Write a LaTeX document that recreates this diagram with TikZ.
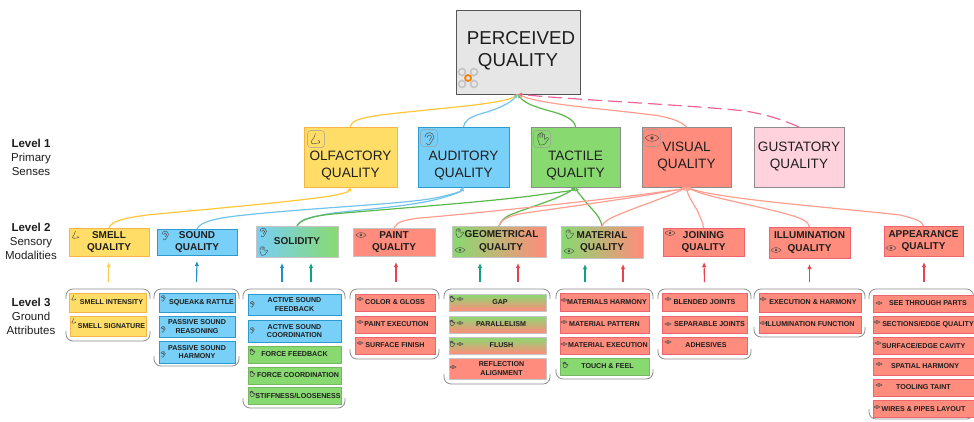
\documentclass[tikz,border=0pt]{standalone}
\usepackage{fontspec}
\setmainfont{Liberation Sans}
\usetikzlibrary{arrows.meta}
\definecolor{rootfill}{HTML}{E6E6E6}
\definecolor{rootedge}{HTML}{555555}
\definecolor{yfill}{HTML}{FFDD66}
\definecolor{yedge}{HTML}{F7B548}
\definecolor{yline}{HTML}{FFC738}
\definecolor{bfill}{HTML}{78CFF7}
\definecolor{bedge}{HTML}{2A9AD0}
\definecolor{bline}{HTML}{72C3EC}
\definecolor{gfill}{HTML}{88DA70}
\definecolor{gline}{HTML}{5BB84A}
\definecolor{sfill}{HTML}{FF8C7C}
\definecolor{sedge}{HTML}{F0626C}
\definecolor{sline}{HTML}{FF9E90}
\definecolor{pfill}{HTML}{FFD2DE}
\definecolor{pline}{HTML}{F0649A}
\definecolor{greyedge}{HTML}{8C8C8C}
\definecolor{lightedge}{HTML}{C4C4C4}
\definecolor{ink}{HTML}{1E1E1E}
\definecolor{upblue}{HTML}{1F8FC4}
\definecolor{upteal}{HTML}{14A085}
\definecolor{upred}{HTML}{E8424F}
\definecolor{upyellow}{HTML}{FFCB55}
\newcommand{\pad}[1]{\hspace*{#1pt}}
\tikzset{
  base/.style={rectangle,inner sep=0pt,outer sep=0pt,align=center,text=ink,line width=0.7pt},
  rootbox/.style={base,fill=rootfill,draw=rootedge,line width=1pt,font=\fontsize{18.7}{22}\selectfont},
  sense/.style={base,font=\fontsize{13.6}{17}\selectfont,line width=0.9pt},
  modal/.style={base,font=\bfseries\fontsize{10}{12.3}\selectfont,line width=0.9pt},
  ground/.style={base,font=\bfseries\fontsize{7.1}{8.3}\selectfont},
  lvl/.style={base,font=\fontsize{11.5}{14}\selectfont},
  yel/.style={fill=yfill,draw=yedge},
  blu/.style={fill=bfill,draw=bedge},
  grn/.style={fill=gfill,draw=gfill!85!black},
  sal/.style={fill=sfill,draw=sedge},
  grpbox/.style={rectangle,inner sep=0pt,outer sep=0pt,append after command={\pgfextra{
    \draw[grpline] ([yshift=-10pt]\tikzlastnode.north west) -- (\tikzlastnode.north west) -- (\tikzlastnode.north east) -- ([yshift=-10pt]\tikzlastnode.north east);
    \draw[grpline] ([yshift=10pt]\tikzlastnode.south west) -- (\tikzlastnode.south west) -- (\tikzlastnode.south east) -- ([yshift=10pt]\tikzlastnode.south east);
  }}},
  grpline/.style={draw=greyedge,line width=0.8pt,rounded corners=7pt},
  link/.style={-{Latex[length=4pt,width=4.5pt]},line width=1.2pt},
  rise/.style={-{Latex[length=5pt,width=4.5pt]},line width=1.1pt,shorten <=7pt,shorten >=6pt},
  iconline/.style={draw=ink!80,line width=0.45pt},
  iconbig/.style={scale=7},
  iconmid/.style={scale=5},
  iconsmall/.style={scale=3.2},
  eyeicon/.pic={
    \draw[iconline] (-1,0) .. controls (-.5,-.65) and (.5,-.65) .. (1,0) .. controls (.5,.65) and (-.5,.65) .. (-1,0);
    \fill[ink!80] (0,0) circle (.28);
  },
  handicon/.pic={
    \draw[iconline,rounded corners=0.6pt] (-.6,.1) -- (-.6,-.65) -- (-.4,-.65) -- (-.4,-.1) -- (-.4,-.85) -- (-.15,-.85) -- (-.15,-.1) -- (-.15,-.9) -- (.1,-.9) -- (.1,-.1) -- (.1,-.7) -- (.35,-.7) -- (.35,.1) -- (.75,-.25) -- (.95,-.05) -- (.4,.75) -- (-.3,.9) -- cycle;
  },
  earicon/.pic={
    \draw[iconline] (-.6,-.1) .. controls (-.6,-1) and (.7,-1) .. (.7,-.1) .. controls (.7,.4) and (.2,.4) .. (.1,.9) .. controls (0,1.1) and (-.4,1) .. (-.4,.7);
    \draw[iconline] (-.25,-.05) .. controls (-.25,-.55) and (.35,-.55) .. (.35,-.1) .. controls (.35,.15) and (.05,.1) .. (.05,.35);
  },
  noseicon/.pic={
    \draw[iconline] (-.1,-.8) .. controls (-.1,-.2) and (-.7,.2) .. (-.7,.45) .. controls (-.7,.75) and (-.2,.75) .. (.1,.6) .. controls (.6,.7) and (.7,.3) .. (.3,.2);
  },
  iconframe/.pic={
    \draw[draw=ink!45,line width=0.4pt,rounded corners=3pt] (-1.2,-1.2) rectangle (1.2,1.2);
  },
}
\begin{document}
\begin{tikzpicture}[x=1pt,y=-1pt]
  \useasboundingbox (0,0) rectangle (974,421);
  % LEVEL LABELS
  \node[lvl] (levelone) at (31,157) {\textbf{Level 1}\\Primary\\Senses};
  \node[lvl] (leveltwo) at (31,241) {\textbf{Level 2}\\Sensory\\Modalities};
  \node[lvl] (levelthree) at (31,316) {\textbf{Level 3}\\Ground\\Attributes};
  % ROOT
  \node[rootbox,minimum width=124,minimum height=84] (root) at (518,52) {\pad{6}PERCEIVED\\QUALITY\\[-16pt]\mbox{}};
  % LEVEL 1 BOXES
  \node[sense,yel,minimum width=93,minimum height=60] (olfactory) at (350.5,157) {\mbox{}\\[9pt]OLFACTORY\\QUALITY};
  \node[sense,blu,minimum width=91,minimum height=60] (auditory) at (463.5,157) {\mbox{}\\[9pt]AUDITORY\\QUALITY};
  \node[sense,fill=gfill,draw=greyedge,minimum width=89,minimum height=60] (tactile) at (575.5,157) {\mbox{}\\[9pt]TACTILE\\QUALITY};
  \node[sense,fill=sfill,draw=greyedge,minimum width=89,minimum height=60] (visual) at (686.5,157) {VISUAL\\QUALITY};
  \node[sense,fill=pfill,draw=greyedge,minimum width=90,minimum height=60] (gustatory) at (799,157) {GUSTATORY\\QUALITY};
  % LEVEL 2 BOXES
  \node[modal,yel,minimum width=80,minimum height=28] (smell) at (109,242) {SMELL\\QUALITY};
  \node[modal,blu,minimum width=80,minimum height=26] (sound) at (197,242) {SOUND\\QUALITY};
  \node[modal,left color=bfill,right color=gfill,draw=lightedge,minimum width=82,minimum height=31] (solidity) at (297,241.5) {SOLIDITY};
  \node[modal,fill=sfill,draw=lightedge,minimum width=82,minimum height=28] (paint) at (394,242) {PAINT\\QUALITY};
  \node[modal,left color=gfill,right color=sfill,draw=lightedge,minimum width=94,minimum height=31] (geometrical) at (499,241.5) {\pad{5}GEOMETRICAL\\\pad{4}QUALITY};
  \node[modal,left color=gfill,right color=sfill,draw=lightedge,minimum width=82,minimum height=32] (material) at (602,242) {MATERIAL\\QUALITY};
  \node[modal,sal,minimum width=81,minimum height=28] (joining) at (703.5,242) {JOINING\\QUALITY};
  \node[modal,sal,minimum width=81,minimum height=31] (illumination) at (809.5,242.5) {ILLUMINATION\\QUALITY};
  \node[modal,sal,minimum width=79,minimum height=30] (appearance) at (923.5,241) {APPEARANCE\\QUALITY};
  % LEVEL 3 GROUPS
  \node[grpbox,minimum width=84,minimum height=52] (smellgrp) at (108,315) {};
  \node[grpbox,minimum width=85,minimum height=77] (soundgrp) at (196.5,327.5) {};
  \node[grpbox,minimum width=102,minimum height=119] (solidgrp) at (294,348.5) {};
  \node[grpbox,minimum width=89,minimum height=70] (paintgrp) at (394.5,324) {};
  \node[grpbox,minimum width=106,minimum height=95] (geomgrp) at (497,336.5) {};
  \node[grpbox,minimum width=97,minimum height=90] (matgrp) at (604.5,334) {};
  \node[grpbox,minimum width=93,minimum height=70] (joingrp) at (704.5,324) {};
  \node[grpbox,minimum width=111,minimum height=48] (illumgrp) at (809.5,313) {};
  \node[grpbox,minimum width=104.5,minimum height=130] (appgrp) at (921.25,354) {};
  % LEVEL 3 BOXES
  \node[ground,yel,minimum width=77,minimum height=19] (smellint) at (107.5,302.5) {\pad{8}SMELL INTENSITY};
  \node[ground,yel,minimum width=76,minimum height=20] (smellsig) at (108,326) {\pad{7}SMELL SIGNATURE};
  \node[ground,blu,minimum width=76,minimum height=19] (squeak) at (197,302.5) {\pad{9}SQUEAK\& RATTLE};
  \node[ground,blu,minimum width=76,minimum height=21] (passreason) at (197,326.5) {PASSIVE SOUND\\REASONING};
  \node[ground,blu,minimum width=76,minimum height=22] (passharm) at (197,352) {PASSIVE SOUND\\HARMONY};
  \node[ground,blu,minimum width=93,minimum height=21] (actfeed) at (294.5,304.5) {ACTIVE SOUND\\FEEDBACK};
  \node[ground,blu,minimum width=93,minimum height=22] (actcoord) at (294.5,331) {ACTIVE SOUND\\COORDINATION};
  \node[ground,grn,minimum width=93,minimum height=17] (forcefeed) at (294.5,354.5) {FORCE FEEDBACK};
  \node[ground,grn,minimum width=93,minimum height=17] (forcecoord) at (294.5,375.5) {\pad{7}FORCE COORDINATION};
  \node[ground,grn,minimum width=93,minimum height=17] (stiffness) at (294.5,395.5) {\pad{7}STIFFNESS/LOOSENESS};
  \node[ground,sal,minimum width=80,minimum height=17] (colorgloss) at (395,302.5) {COLOR \& GLOSS};
  \node[ground,sal,minimum width=80,minimum height=17] (paintexec) at (395,324.5) {\pad{3}PAINT EXECUTION};
  \node[ground,sal,minimum width=80,minimum height=17] (surffin) at (395,345.5) {SURFACE FINISH};
  \node[ground,top color=gfill,bottom color=sfill,draw=lightedge,minimum width=97,minimum height=17] (gap) at (497.5,302.5) {\pad{5}GAP};
  \node[ground,top color=gfill,bottom color=sfill,draw=lightedge,minimum width=97,minimum height=17] (parallel) at (497.5,324.5) {\pad{7}PARALLELISM};
  \node[ground,top color=gfill,bottom color=sfill,draw=lightedge,minimum width=97,minimum height=17] (flush) at (497.5,345.5) {\pad{8}FLUSH};
  \node[ground,fill=sfill,draw=lightedge,minimum width=97,minimum height=21] (reflect) at (497.5,368.5) {\pad{8}REFLECTION\\\pad{8}ALIGNMENT};
  \node[ground,sal,minimum width=89,minimum height=18] (matharm) at (604.5,302) {\pad{5}MATERIALS HARMONY};
  \node[ground,sal,minimum width=89,minimum height=17] (matpatt) at (604.5,324.5) {MATERIAL PATTERN};
  \node[ground,sal,minimum width=89,minimum height=17] (matexec) at (604.5,345.5) {\pad{7}MATERIAL EXECUTION};
  \node[ground,grn,minimum width=89,minimum height=17] (touch) at (604.5,366.5) {\pad{6}TOUCH \& FEEL};
  \node[ground,sal,minimum width=85,minimum height=18] (blended) at (704.5,302) {BLENDED JOINTS};
  \node[ground,sal,minimum width=85,minimum height=17] (separable) at (704.5,324.5) {\pad{10}SEPARABLE JOINTS};
  \node[ground,sal,minimum width=85,minimum height=17] (adhesives) at (704.5,345.5) {\pad{3}ADHESIVES};
  \node[ground,sal,minimum width=102,minimum height=19] (execharm) at (810,302.5) {\pad{6}EXECUTION \& HARMONY};
  \node[ground,sal,minimum width=102,minimum height=17] (illumfunc) at (810,324.5) {ILLUMINATION FUNCTION};
  \node[ground,sal,minimum width=101,minimum height=17] (seethrough) at (923.5,303.5) {\pad{9}SEE THROUGH PARTS};
  \node[ground,sal,minimum width=101,minimum height=17] (sections) at (923.5,324.5) {\pad{9}SECTIONS/EDGE QUALITY};
  \node[ground,sal,minimum width=101,minimum height=17] (surfedge) at (923.5,345.5) {SURFACE/EDGE CAVITY};
  \node[ground,sal,minimum width=101,minimum height=17] (spatial) at (923.5,366.5) {\pad{3}SPATIAL HARMONY};
  \node[ground,sal,minimum width=101,minimum height=17] (tooling) at (923.5,387.5) {TOOLING TAINT};
  \node[ground,sal,minimum width=101,minimum height=17] (wires) at (923.5,409) {WIRES \& PIPES LAYOUT};
  % ROOT LINKS
  \draw[link,yline] (olfactory.north) .. controls (351,120) and (362,118) .. (380,115) .. controls (440,108) and (505,104) .. (root.south);
  \draw[link,bline] (auditory.north) .. controls (464,121) and (470,117) .. (480,114) .. controls (495,110) and (510,104) .. (root.south);
  \draw[link,gline] (tactile.north) .. controls (575,120) and (565,115) .. (550,111) .. controls (535,107) and (524,103) .. (root.south);
  \draw[link,sline] (visual.north) .. controls (683,123) and (675,119) .. (660,116) .. controls (620,110) and (540,105) .. (root.south);
  \draw[link,pline,dash pattern=on 14pt off 6pt] (gustatory.north) .. controls (785,121) and (770,115) .. (745,111) .. controls (690,105) and (560,99) .. (root.south);
  % OLFACTORY AND AUDITORY LINKS
  \draw[link,yline] (smell.north) .. controls (111,221) and (125,218) .. (147,215) .. controls (210,209) and (300,201) .. (330,196) .. controls (342,194) and (349,192) .. (olfactory.south);
  \draw[link,bline] (sound.north) .. controls (200,222) and (215,218) .. (245,215) .. controls (320,207) and (410,204) .. (440,197) .. controls (452,194) and (461,192) .. (auditory.south);
  \draw[link,bline] (solidity.north) .. controls (300,219) and (310,217) .. (333,213) .. controls (380,208) and (420,205) .. (445,197) .. controls (455,194) and (461,192) .. (auditory.south);
  % TACTILE LINKS
  \draw[link,gline] (solidity.north) .. controls (300,220) and (312,216) .. (333,214) .. controls (400,208) and (500,201) .. (545,194) .. controls (560,192) and (572,191) .. (tactile.south);
  \draw[link,gline] (geometrical.north) .. controls (501,220) and (506,216) .. (515,213) .. controls (530,207) and (562,198) .. (tactile.south);
  \draw[link,gline] (material.north) .. controls (600,215) and (590,208) .. (585,201) .. controls (582,197) and (578,193) .. (tactile.south);
  % VISUAL LINKS
  \draw[link,sline] (paint.north) .. controls (397,222) and (403,220) .. (420,218) .. controls (480,213) and (620,198) .. (660,192) .. controls (672,190) and (680,190) .. (visual.south);
  \draw[link,sline] (geometrical.north) .. controls (501,220) and (507,216) .. (525,213) .. controls (560,208) and (640,197) .. (670,191) .. controls (678,190) and (682,189) .. (visual.south);
  \draw[link,sline] (material.north) .. controls (604,221) and (610,218) .. (625,212) .. controls (645,204) and (675,194) .. (visual.south);
  \draw[link,sline] (joining.north) .. controls (703,222) and (700,217) .. (697,210) .. controls (693,203) and (688,196) .. (visual.south);
  \draw[link,sline] (illumination.north) .. controls (808,221) and (803,219) .. (790,215) .. controls (760,206) and (705,197) .. (visual.south);
  \draw[link,sline] (appearance.north) .. controls (922,221) and (916,219) .. (900,215) .. controls (850,209) and (715,199) .. (visual.south);
  % RISING ARROWS
  \draw[rise,upyellow] (smellgrp.north) -- (smell.south);
  \draw[rise,upblue] (soundgrp.north) -- (sound.south);
  \draw[rise,upblue] ([xshift=-12pt]solidgrp.north) -- ([xshift=-15pt]solidity.south);
  \draw[rise,upteal] ([xshift=17pt]solidgrp.north) -- ([xshift=14pt]solidity.south);
  \draw[rise,upred] ([xshift=1.5pt]paintgrp.north) -- ([xshift=2pt]paint.south);
  \draw[rise,upteal] ([xshift=-17pt]geomgrp.north) -- ([xshift=-19pt]geometrical.south);
  \draw[rise,upred] ([xshift=21pt]geomgrp.north) -- ([xshift=19pt]geometrical.south);
  \draw[rise,upteal] ([xshift=-19.5pt]matgrp.north) -- ([xshift=-17pt]material.south);
  \draw[rise,upred] ([xshift=18.5pt]matgrp.north) -- ([xshift=21pt]material.south);
  \draw[rise,upred] (joingrp.north) -- ([xshift=0.5pt]joining.south);
  \draw[rise,upred] (illumgrp.north) -- (illumination.south);
  \draw[rise,upred] ([xshift=2.75pt]appgrp.north) -- ([xshift=0.5pt]appearance.south);
  % ICONS LEVEL 0 AND 1
  \draw[lightedge,line width=1.6pt] (462,72) circle (3.5) (474,72) circle (3.5) (462,84) circle (3.5) (474,84) circle (3.5);
  \draw[orange,line width=1.8pt] (468,78) circle (3);
  \pic[iconbig] at (316,139) {iconframe};
  \pic[iconbig] at (316,139) {noseicon};
  \pic[iconbig] at (429,138) {iconframe};
  \pic[iconbig] at (429,138) {earicon};
  \pic[iconbig] at (542,139) {iconframe};
  \pic[iconbig] at (542,139) {handicon};
  \pic[iconbig] at (652,138) {iconframe};
  \pic[iconbig] at (652,138) {eyeicon};
  % ICONS LEVEL 2
  \pic[iconmid] at (76,235) {noseicon};
  \pic[iconmid] at (165,235) {earicon};
  \pic[iconmid] at (263,232) {earicon};
  \pic[iconmid] at (263,251) {handicon};
  \pic[iconmid] at (361,235) {eyeicon};
  \pic[iconmid] at (459,233) {handicon};
  \pic[iconmid] at (460,250) {eyeicon};
  \pic[iconmid] at (569,234) {handicon};
  \pic[iconmid] at (569,251) {eyeicon};
  \pic[iconmid] at (670,233) {eyeicon};
  \pic[iconmid] at (776,250) {eyeicon};
  \pic[iconmid] at (891,248) {eyeicon};
  % ICONS LEVEL 3
  \pic[iconsmall] at (74,298) {noseicon};
  \pic[iconsmall] at (74,321) {noseicon};
  \pic[iconsmall] at (163,298) {earicon};
  \pic[iconsmall] at (163,329) {earicon};
  \pic[iconsmall] at (163,354) {earicon};
  \pic[iconsmall] at (252,304) {earicon};
  \pic[iconsmall] at (252,330) {earicon};
  \pic[iconsmall] at (252,352) {handicon};
  \pic[iconsmall] at (252,374) {handicon};
  \pic[iconsmall] at (252,394) {handicon};
  \pic[iconsmall] at (360,299) {eyeicon};
  \pic[iconsmall] at (360,322) {eyeicon};
  \pic[iconsmall] at (360,343) {eyeicon};
  \pic[iconsmall] at (452,299) {handicon};
  \pic[iconsmall] at (460,299) {eyeicon};
  \pic[iconsmall] at (452,323) {handicon};
  \pic[iconsmall] at (460,323) {eyeicon};
  \pic[iconsmall] at (452,344) {handicon};
  \pic[iconsmall] at (460,344) {eyeicon};
  \pic[iconsmall] at (453,367) {eyeicon};
  \pic[iconsmall] at (564,300) {eyeicon};
  \pic[iconsmall] at (564,322) {eyeicon};
  \pic[iconsmall] at (564,344) {eyeicon};
  \pic[iconsmall] at (565,365) {handicon};
  \pic[iconsmall] at (668,299) {eyeicon};
  \pic[iconsmall] at (668,324) {eyeicon};
  \pic[iconsmall] at (668,342) {eyeicon};
  \pic[iconsmall] at (763,299) {eyeicon};
  \pic[iconsmall] at (763,323) {eyeicon};
  \pic[iconsmall] at (879,303) {eyeicon};
  \pic[iconsmall] at (877,322) {eyeicon};
  \pic[iconsmall] at (878,343) {eyeicon};
  \pic[iconsmall] at (879,364) {eyeicon};
  \pic[iconsmall] at (879,385) {eyeicon};
  \pic[iconsmall] at (877,407) {eyeicon};
\end{tikzpicture}
\end{document}
